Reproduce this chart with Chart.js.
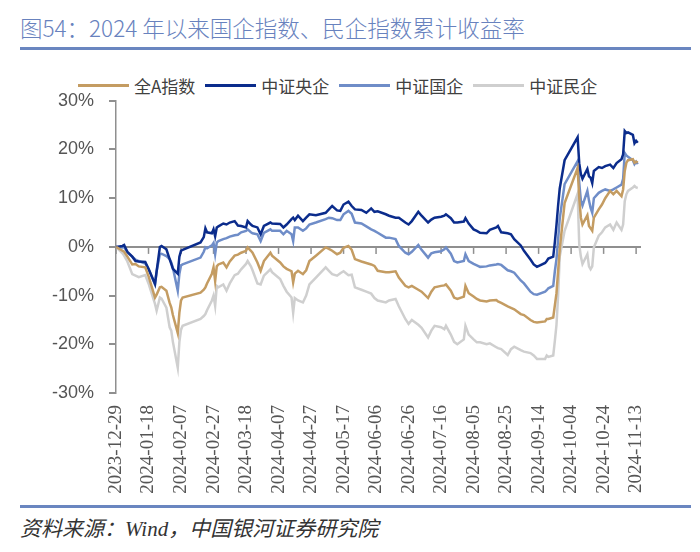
<!DOCTYPE html>
<html>
<head>
<meta charset="utf-8">
<script src="https://cdn.jsdelivr.net/npm/chart.js@4.4.1/dist/chart.umd.min.js"></script>
<style>
  body { margin: 0; width: 700px; height: 552px; background: #fff; position: relative; overflow: hidden; font-family: "Noto Sans CJK SC", sans-serif; }
  .title { position: absolute; left: 20px; top: 11px; font-size: 22.5px; font-weight: 300; color: #6882be; white-space: nowrap; }
  .rule { position: absolute; left: 20px; width: 671px; height: 3px; background: #6a86c0; }
  .legend { position: absolute; left: 78px; top: 73px; display: flex; align-items: center; font-size: 17px; color: #404040; }
  .legend .item { display: flex; align-items: center; margin-right: 10px; }
  .legend .line { width: 51px; height: 2.5px; margin-right: 5px; }
  .source { position: absolute; left: 20px; top: 512px; font-size: 21px; color: #333; font-style: italic; font-family: "Liberation Serif", "Noto Sans CJK SC", serif; white-space: nowrap; }
  #wrap { position: absolute; left: 0; top: 75px; }
</style>
</head>
<body>
<div class="title">图54：2024 年以来国企指数、民企指数累计收益率</div>
<div class="rule" style="top:47px"></div>
<div class="legend" id="legend"></div>
<div id="wrap"><canvas id="chart" width="680" height="428"></canvas></div>
<div class="rule" style="top:505px"></div>
<div class="source">资料来源：Wind，中国银河证券研究院</div>

<script>
// 累计收益率 (%), sampled trading days
const dates = [
  '2023-12-29','2024-01-02','2024-01-03','2024-01-05','2024-01-08','2024-01-10','2024-01-12','2024-01-16','2024-01-18','2024-01-22',
  '2024-01-23','2024-01-25','2024-01-26','2024-01-29','2024-01-31','2024-02-01','2024-02-02','2024-02-05','2024-02-06','2024-02-07',
  '2024-02-08','2024-02-19','2024-02-21','2024-02-22','2024-02-23','2024-02-26','2024-02-27','2024-02-28','2024-02-29','2024-03-01',
  '2024-03-04','2024-03-06','2024-03-08','2024-03-11','2024-03-13','2024-03-15','2024-03-18','2024-03-19','2024-03-21','2024-03-22',
  '2024-03-25','2024-03-27','2024-03-29','2024-04-02','2024-04-03','2024-04-08','2024-04-10','2024-04-12','2024-04-15','2024-04-16',
  '2024-04-17','2024-04-19','2024-04-22','2024-04-24','2024-04-26','2024-04-30','2024-05-06','2024-05-08','2024-05-10','2024-05-13',
  '2024-05-15','2024-05-17','2024-05-20','2024-05-22','2024-05-24','2024-05-28','2024-05-31','2024-06-03','2024-06-05','2024-06-07',
  '2024-06-12','2024-06-14','2024-06-18','2024-06-20','2024-06-24','2024-06-26','2024-06-28','2024-07-02','2024-07-04','2024-07-08',
  '2024-07-10','2024-07-12','2024-07-16','2024-07-18','2024-07-19','2024-07-22','2024-07-24','2024-07-26','2024-07-30','2024-07-31',
  '2024-08-02','2024-08-05','2024-08-07','2024-08-09','2024-08-13','2024-08-15','2024-08-19','2024-08-20','2024-08-22','2024-08-26',
  '2024-08-28','2024-08-30','2024-09-03','2024-09-05','2024-09-09','2024-09-11','2024-09-13','2024-09-18','2024-09-19','2024-09-20',
  '2024-09-23','2024-09-24','2024-09-25','2024-09-26','2024-09-27','2024-09-30','2024-10-08','2024-10-09','2024-10-10','2024-10-11',
  '2024-10-14','2024-10-15','2024-10-16','2024-10-17','2024-10-18','2024-10-21','2024-10-23','2024-10-25','2024-10-28','2024-10-30',
  '2024-11-01','2024-11-04','2024-11-05','2024-11-06','2024-11-07','2024-11-08','2024-11-11','2024-11-12','2024-11-13','2024-11-14'
];

const allA = [
  0,-0.8,-1.0,-2.0,-3.6,-3.5,-4.0,-4.2,-6.0,-10.4,
  -9.8,-8.3,-8.2,-9.0,-11.5,-12.4,-14.0,-17.7,-13.5,-11.0,
  -10.4,-9.4,-8.8,-8.3,-7.5,-5.5,-4.2,-7.0,-4.0,-3.6,
  -3.2,-4.2,-3.0,-1.8,-1.6,-1.2,-0.8,-0.1,-0.8,-1.2,
  -3.2,-4.9,-2.9,-1.2,-1.8,-3.2,-4.0,-4.5,-5.0,-7.3,
  -5.5,-4.9,-5.6,-4.8,-2.9,-1.8,-0.1,-0.4,-0.8,-1.5,
  -1.2,-0.2,0.2,-0.6,-2.5,-3.0,-3.3,-3.6,-3.9,-4.9,
  -5.2,-5.2,-5.0,-6.3,-8.0,-8.3,-8.0,-8.8,-9.2,-10.5,
  -9.2,-8.3,-8.0,-7.9,-7.7,-9.0,-10.4,-10.7,-10.2,-8.0,
  -9.5,-10.2,-10.7,-11.0,-11.2,-11.0,-10.9,-11.2,-11.5,-12.2,
  -12.5,-12.8,-13.8,-14.0,-15.0,-15.4,-15.5,-15.3,-14.8,-14.8,
  -14.5,-12.0,-9.5,-5.0,-0.5,9.0,16.2,10.1,6.0,4.6,
  6.5,4.3,3.8,3.3,6.0,7.7,8.7,10.0,11.5,10.8,
  11.5,10.4,11.8,15.6,17.3,17.8,18.0,17.3,17.5,17.3
];

const csiCentralSoe = [
  0,0.2,0.4,-1.0,-2.0,-2.9,-3.0,-3.1,-4.5,-7.6,
  -5.0,0.0,0.2,-0.5,-2.5,-3.5,-4.5,-5.5,-2.0,-0.8,
  -0.6,0.9,2.0,3.8,3.0,2.8,3.6,2.2,4.0,4.2,
  4.8,4.6,5.0,5.3,4.4,4.3,4.0,5.3,4.6,4.3,
  4.0,2.6,4.3,5.0,4.8,4.7,4.0,4.6,5.7,6.0,
  5.5,6.4,5.3,6.0,6.7,6.5,7.0,7.7,8.4,7.5,
  7.4,8.7,9.3,8.4,7.7,7.6,7.0,7.9,7.2,7.3,
  6.7,6.4,6.0,6.0,5.0,4.6,5.3,7.2,6.4,5.0,
  5.6,6.0,6.2,6.4,6.7,5.9,5.0,5.0,5.2,5.9,
  4.8,3.6,3.3,2.9,2.8,3.5,4.0,4.3,3.0,2.8,
  2.6,1.6,0.3,-0.8,-2.6,-3.6,-4.1,-3.3,-2.9,-2.4,
  -2.0,1.0,4.5,8.5,12.0,17.8,22.5,17.2,15.0,14.0,
  16.0,14.5,14.2,13.1,15.6,16.4,16.2,16.6,16.9,16.2,
  17.2,18.0,19.0,23.8,23.4,23.5,23.0,21.3,21.8,21.4
];

const csiSoe = [
  0,-0.1,0.0,-1.2,-2.0,-2.6,-2.9,-3.4,-4.5,-7.7,
  -5.0,-1.5,-1.4,-1.9,-2.5,-3.2,-4.3,-9.0,-5.5,-3.8,
  -3.6,-2.2,-1.0,-0.1,-0.3,0.3,0.8,-1.5,0.9,1.2,
  1.6,1.8,2.1,2.4,2.5,3.0,3.3,3.6,3.0,2.8,
  2.6,1.2,2.9,3.6,3.3,3.3,2.6,3.3,2.6,1.2,
  4.0,4.0,3.3,3.8,4.6,5.0,5.7,6.0,5.9,5.5,
  5.5,6.7,7.4,6.8,5.0,4.8,4.2,3.6,3.3,2.9,
  1.9,1.9,1.6,0.2,-1.2,-1.5,-1.0,0.4,-0.6,-2.2,
  -1.3,-1.1,-0.9,-0.5,-0.1,-1.4,-2.9,-3.2,-2.9,-1.5,
  -2.9,-3.5,-3.8,-4.1,-4.0,-3.8,-3.6,-3.5,-3.7,-4.8,
  -5.0,-5.3,-6.9,-7.5,-9.2,-9.7,-9.8,-9.2,-8.9,-8.5,
  -8.0,-5.0,-2.5,1.5,5.8,12.9,17.6,13.2,9.5,8.5,
  11.5,9.5,8.0,7.0,10.0,11.1,11.5,11.8,11.5,11.8,
  12.2,12.8,14.0,19.3,18.8,18.5,17.8,17.0,17.5,17.0
];

const csiPrivate = [
  0,-1.3,-1.8,-3.0,-5.6,-5.9,-6.2,-5.8,-7.5,-11.7,
  -13.1,-10.4,-10.6,-12.5,-16.5,-17.2,-19.5,-24.8,-19.5,-17.0,
  -16.2,-14.8,-14.2,-13.8,-13.0,-11.0,-10.0,-12.1,-8.0,-8.3,
  -7.7,-9.0,-7.5,-5.8,-5.5,-4.6,-3.5,-2.9,-4.0,-4.8,
  -7.5,-7.7,-5.9,-4.6,-5.2,-6.6,-8.0,-9.2,-10.4,-13.5,
  -10.5,-11.0,-11.4,-10.0,-7.7,-6.3,-4.2,-4.9,-5.6,-5.9,
  -5.4,-5.0,-5.8,-5.7,-8.3,-8.8,-9.2,-9.6,-10.5,-11.0,
  -11.4,-11.0,-10.7,-12.2,-14.8,-15.8,-15.0,-16.0,-16.6,-18.6,
  -17.2,-16.2,-16.5,-16.9,-16.2,-18.0,-19.5,-20.0,-19.0,-16.2,
  -18.0,-19.0,-19.6,-19.6,-20.0,-19.8,-20.6,-20.8,-21.0,-22.2,
  -21.0,-20.5,-21.2,-21.5,-21.8,-22.3,-23.0,-23.0,-22.3,-22.6,
  -22.3,-19.3,-16.0,-10.0,-2.0,3.3,10.9,0.5,-2.0,-3.5,
  -1.5,-4.0,-4.6,-4.0,-0.1,2.3,3.0,4.0,4.6,3.5,
  5.0,3.5,4.6,9.4,10.8,11.5,12.2,12.5,12.2,12.1
];

const seriesNames = ['全A指数', '中证央企', '中证国企', '中证民企'];
const seriesColors = ['#c49c62', '#0b2c8c', '#6f8dc8', '#cfcfcf'];
const tickDates = [
  '2023-12-29','2024-01-18','2024-02-07','2024-02-27','2024-03-18','2024-04-07','2024-04-27','2024-05-17','2024-06-06',
  '2024-06-26','2024-07-16','2024-08-05','2024-08-25','2024-09-14','2024-10-04','2024-10-24','2024-11-13'
];
const yTicks = [-30, -20, -10, 0, 10, 20, 30];

// days since first date, so the x axis is a calendar axis
function dayOf(s) {
  const p = s.split('-').map(Number);
  return Math.round((Date.UTC(p[0], p[1] - 1, p[2]) - Date.UTC(2023, 11, 29)) / 86400000);
}

const allSeries = [allA, csiCentralSoe, csiSoe, csiPrivate];
const datasets = allSeries.map((vals, i) => ({
  label: seriesNames[i],
  data: dates.map((d, j) => ({ x: dayOf(d), y: vals[j] })),
  borderColor: seriesColors[i],
  backgroundColor: seriesColors[i],
  borderWidth: 2.5,
  pointRadius: 0,
  tension: 0
}));

// html legend
const legendEl = document.getElementById('legend');
seriesNames.forEach((name, i) => {
  legendEl.innerHTML += `<div class="item"><div class="line" style="background:${seriesColors[i]}"></div><span>${name}</span></div>`;
});

const grey = '#8f8f8f';

// small tick marks hanging under the zero line
const zeroTicks = {
  id: 'zeroTicks',
  beforeDatasetsDraw(chart) {
    const x = chart.scales.x, y = chart.scales.y;
    const y0 = y.getPixelForValue(0);
    const ctx = chart.ctx;
    ctx.save();
    ctx.strokeStyle = grey;
    ctx.lineWidth = 1.5;
    tickDates.forEach(d => {
      const px = x.getPixelForValue(dayOf(d));
      ctx.beginPath();
      ctx.moveTo(px, y0);
      ctx.lineTo(px, y0 + 7);
      ctx.stroke();
    });
    ctx.restore();
  }
};

new Chart(document.getElementById('chart'), {
  type: 'line',
  data: { datasets },
  plugins: [zeroTicks],
  options: {
    responsive: false,
    animation: false,
    layout: { padding: { top: 14, right: 39, left: 0, bottom: 0 } },
    plugins: { legend: { display: false }, tooltip: { enabled: false } },
    scales: {
      x: {
        type: 'linear',
        min: 0,
        max: dayOf('2024-11-16'),
        afterBuildTicks: scale => { scale.ticks = tickDates.map(d => ({ value: dayOf(d) })); },
        afterFit: scale => { scale.height = 110; },
        grid: { display: false, drawTicks: false },
        border: { display: false },
        ticks: {
          autoSkip: false,
          minRotation: 90,
          maxRotation: 90,
          padding: 12,
          color: '#555',
          font: { family: 'Liberation Serif', size: 19 },
          callback: v => tickDates.find(d => dayOf(d) === v) || ''
        }
      },
      y: {
        min: -30,
        max: 30,
        afterBuildTicks: scale => { scale.ticks = yTicks.map(v => ({ value: v })); },
        afterFit: scale => { scale.width = 116; },
        grid: {
          color: c => (c.tick && c.tick.value === 0) ? grey : 'rgba(0,0,0,0)',
          tickColor: grey,
          tickLength: 7,
          lineWidth: 2
        },
        border: { display: true, color: grey, width: 1.5 },
        ticks: {
          padding: 15,
          color: '#555',
          font: { family: 'Liberation Sans', size: 18 },
          callback: v => v + '%'
        }
      }
    }
  }
});
</script>
</body>
</html>
